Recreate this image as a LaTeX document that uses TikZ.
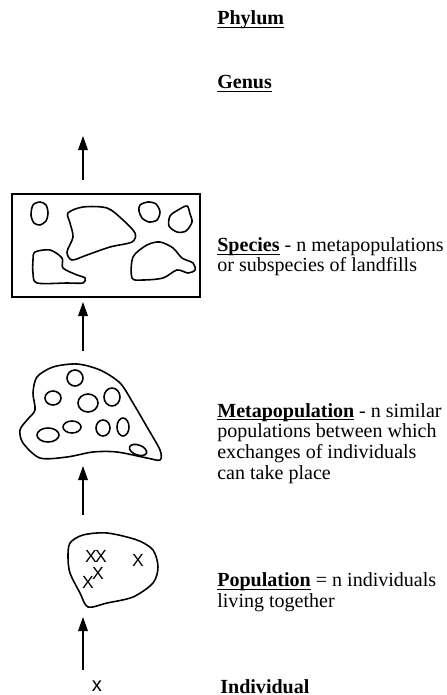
\documentclass[tikz,border=0pt]{standalone}
\usepackage{fontspec}
\setmainfont{Liberation Serif}
\setsansfont{Liberation Sans}
\usepackage{tikz}
\usetikzlibrary{positioning, arrows.meta}

\newcommand{\ulbf}[1]{\underline{\smash{\textbf{#1}}}}

\tikzset{
  lvl/.style={font=\fontsize{11.4}{11.7}\selectfont, align=left, anchor=base west, inner sep=0pt},
  uparrow/.style={-{Triangle[length=8pt,width=5.5pt]}, line width=0.8pt},
  blob/.style={line width=0.9pt},
  ind/.style={font=\sffamily\fontsize{10}{10}\selectfont, inner sep=0pt}
}

\begin{document}
\begin{tikzpicture}[x=0.02cm, y=-0.02cm]

\useasboundingbox (0,0) rectangle (446,695);

% Texte (base = letzte Zeile)
\node[lvl] (phylum) at (217,25) {\ulbf{Phylum}};
\node[lvl] (genus) at (217,89) {\ulbf{Genus}};
\node[lvl] (species) at (217,272) {\ulbf{Species} - n metapopulations\\or subspecies of landfills};
\node[lvl] (meta) at (217,479) {\ulbf{Metapopulation} - n similar\\populations between which\\exchanges of individuals\\can take place};
\node[lvl] (pop) at (217,607) {\ulbf{Population} = n individuals\\living together};
\node[lvl] (indiv) at (220,693) {\textbf{Individual}};

% Pfeile
\coordinate (a1b) at (83,180);
\coordinate (a1t) at (83,136);
\coordinate (a2b) at (83,351);
\coordinate (a2t) at (83,302);
\coordinate (a3b) at (83,515);
\coordinate (a3t) at (83,466);
\coordinate (a4b) at (83,670);
\coordinate (a4t) at (83,617);
\draw[uparrow] (a1b) -- (a1t);
\draw[uparrow] (a2b) -- (a2t);
\draw[uparrow] (a3b) -- (a3t);
\draw[uparrow] (a4b) -- (a4t);

% Species
\draw[line width=1.1pt] (12,194) rectangle (200,297);
\draw[blob] plot[smooth cycle] coordinates {(33,205) (40,202) (46,205) (48,213) (46,221) (40,225) (34,223) (31,215)};
\draw[blob] plot[smooth cycle] coordinates {(68,213) (83,207) (107,208) (123,220) (135,233) (132,242) (110,247) (87,255) (72,260) (67,252) (73,237) (70,223)};
\draw[blob] plot[smooth cycle] coordinates {(35,252) (50,250) (62,258) (63,268) (77,275) (85,278) (83,283) (67,283) (37,283) (33,273) (33,260)};
\draw[blob] plot[smooth cycle] coordinates {(140,205) (148,202) (156,204) (160,212) (157,220) (149,222) (142,218) (139,211)};
\draw[blob] plot[smooth cycle] coordinates {(170,216) (178,210) (187,206) (190,214) (192,222) (186,231) (177,232) (169,226)};
\draw[blob] plot[smooth cycle] coordinates {(133,257) (147,245) (160,242) (173,248) (182,258) (193,263) (195,270) (188,273) (177,270) (163,278) (143,280) (132,278)};

% Metapopulation
\draw[blob] plot[smooth cycle] coordinates {(37,377) (53,367) (77,364) (100,370) (120,383) (133,403) (147,427) (160,450) (160,460) (147,458) (117,452) (93,452) (67,457) (40,458) (23,443) (20,430) (27,420) (35,410) (33,393)};
\foreach \x/\y/\a/\b/\r in {
75/378/8/8/0, 53/398/8/7/0, 88/403/10/9/0, 112/397/8/9/0,
48/435/11/7/0, 72/427/9/6/0, 103/428/7/8/0, 123/427/6/9/0,
138/450/9/5/-20}
\draw[blob, rotate around={\r:(\x,\y)}] (\x,\y) ellipse (\a*1 and \b*1);

% Population
\draw[blob] plot[smooth cycle] coordinates {(70,543) (83,535) (107,533) (137,540) (153,550) (158,567) (153,583) (133,597) (107,603) (88,607) (80,593) (70,573) (68,557)};
\node[ind] (i1) at (91,556) {X};
\node[ind] (i2) at (101,556) {X};
\node[ind] (i3) at (138,560) {X};
\node[ind] (i4) at (98,573) {X};
\node[ind] (i5) at (88,582) {X};

% Individual
\node[ind, font=\sffamily\fontsize{11.5}{11.5}\selectfont] (indx) at (97,686) {x};

\end{tikzpicture}
\end{document}
